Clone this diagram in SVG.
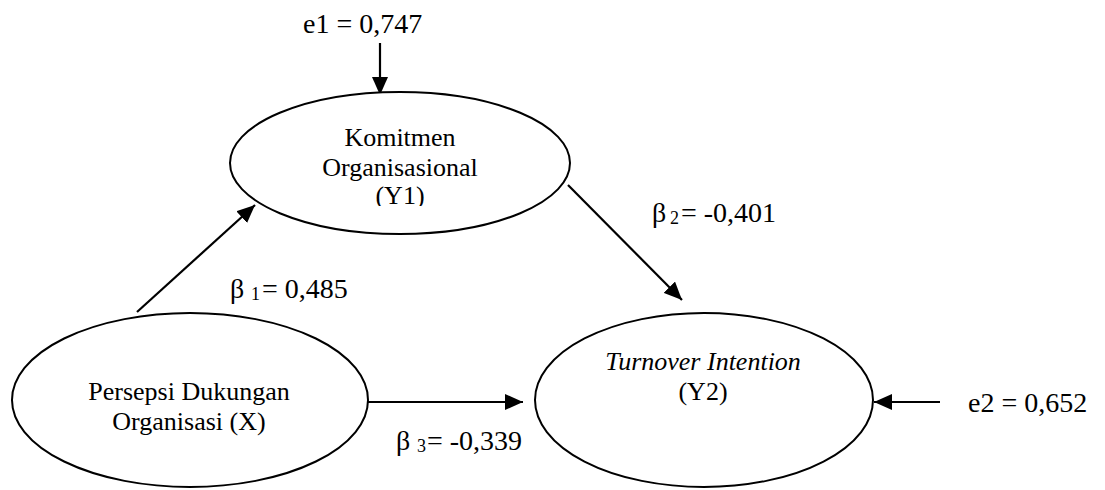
<svg xmlns="http://www.w3.org/2000/svg" width="1105" height="490" viewBox="0 0 1105 490">
  <style>
    .node { fill: #ffffff; stroke: #000000; stroke-width: 2; }
    .ntext { font-family: "Liberation Serif", "Times New Roman", serif; font-size: 26px; fill: #000000; text-anchor: middle; }
    .lbl { font-family: "Liberation Serif", "Times New Roman", serif; font-size: 28px; fill: #000000; }
    .sub { font-family: "Liberation Serif", "Times New Roman", serif; font-size: 18px; fill: #000000; }
    .edge { stroke: #000000; stroke-width: 2.2; fill: none; marker-end: url(#arrow); }
  </style>
  <defs>
    <marker id="arrow" markerUnits="userSpaceOnUse" markerWidth="18" markerHeight="16" refX="18" refY="8" orient="auto">
      <path d="M0,0 L18,8 L0,16 z" fill="#000000"/>
    </marker>
    <clipPath id="clipY1">
      <rect x="240" y="110" width="320" height="96"/>
    </clipPath>
  </defs>

  <rect x="0" y="0" width="1105" height="490" fill="#ffffff"/>

  <g id="connectors">
    <line class="edge" x1="380" y1="43" x2="380" y2="95"/>
    <line class="edge" x1="137" y1="312" x2="255" y2="205"/>
    <line class="edge" x1="568" y1="185" x2="682" y2="300"/>
    <line class="edge" x1="366" y1="402" x2="523" y2="402"/>
    <line class="edge" x1="940" y1="402" x2="874" y2="402"/>
  </g>

  <g id="node-y1">
    <ellipse class="node" cx="400" cy="163" rx="170" ry="71"/>
    <g clip-path="url(#clipY1)">
      <text class="ntext" x="400" y="146">Komitmen</text>
      <text class="ntext" x="400" y="176">Organisasional</text>
      <text class="ntext" x="400" y="204">(Y1)</text>
    </g>
  </g>

  <g id="node-x">
    <ellipse class="node" cx="190" cy="400" rx="178" ry="87"/>
    <text class="ntext" x="189" y="400">Persepsi Dukungan</text>
    <text class="ntext" x="189" y="430">Organisasi (X)</text>
  </g>

  <g id="node-y2">
    <ellipse class="node" cx="704" cy="400" rx="169" ry="87"/>
    <text class="ntext" x="703" y="370" font-style="italic">Turnover Intention</text>
    <text class="ntext" x="703" y="400">(Y2)</text>
  </g>

  <g id="labels">
    <text class="lbl" x="303" y="33">e1 = 0,747</text>
    <text class="lbl" x="968" y="412">e2 = 0,652</text>

    <text class="lbl" x="230" y="298">β</text>
    <text class="sub" x="251" y="300">1</text>
    <text class="lbl" x="262" y="298">= 0,485</text>

    <text class="lbl" x="652" y="222">β</text>
    <text class="sub" x="670" y="224">2</text>
    <text class="lbl" x="681" y="222">= -0,401</text>

    <text class="lbl" x="396" y="450">β</text>
    <text class="sub" x="417" y="452">3</text>
    <text class="lbl" x="427" y="450">= -0,339</text>
  </g>
</svg>
